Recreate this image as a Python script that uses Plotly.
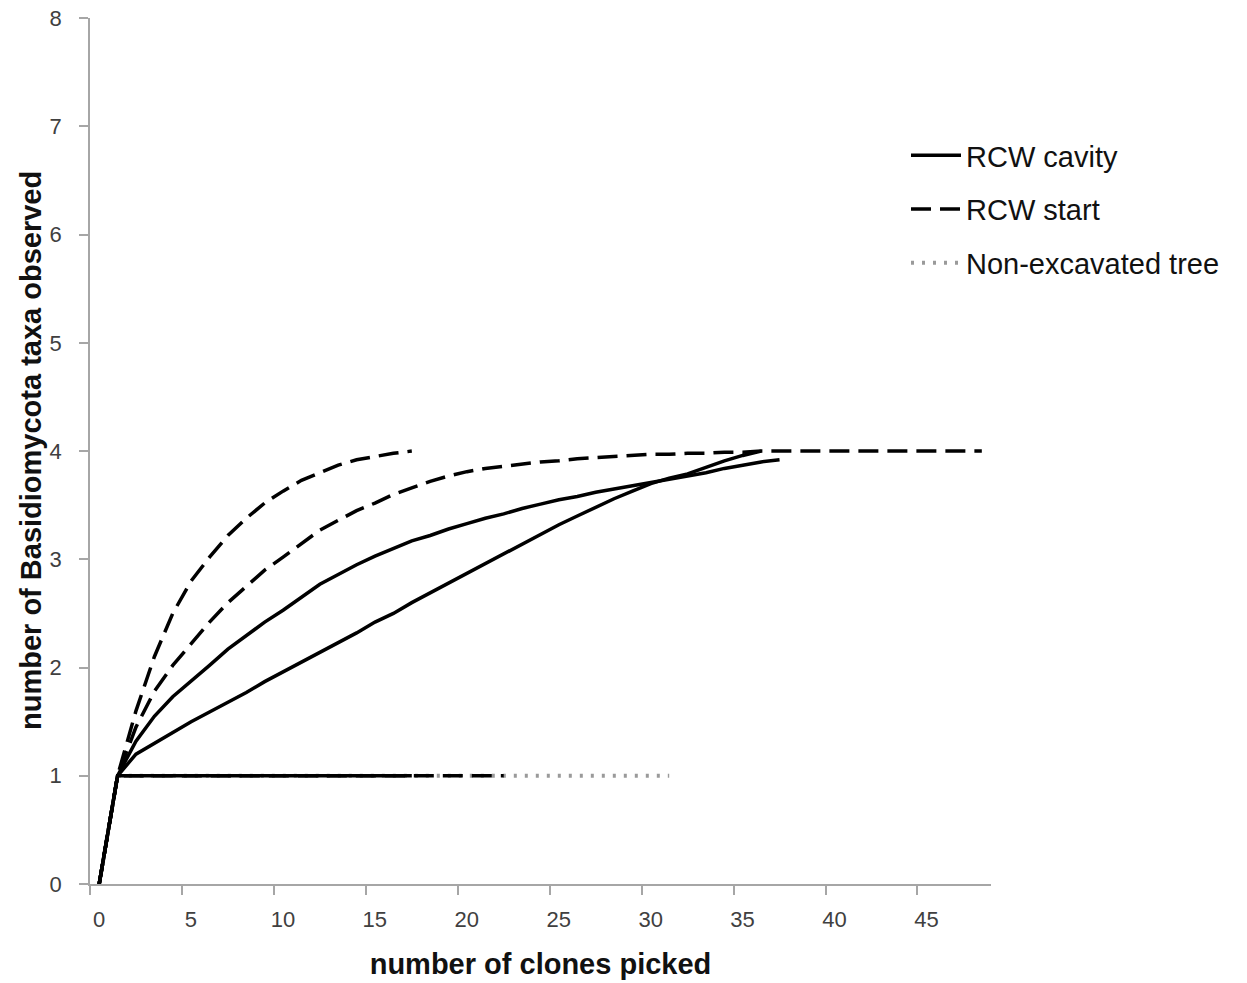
import plotly.graph_objects as go

# clones picked (x, categories 0..48) and taxa observed (y)
cavity_a = [0, 1, 1.32, 1.55, 1.73, 1.87, 2.02, 2.17, 2.30, 2.42, 2.53, 2.65, 2.77, 2.86, 2.95,
            3.03, 3.10, 3.17, 3.22, 3.28, 3.33, 3.38, 3.42, 3.47, 3.51, 3.55, 3.58, 3.62, 3.65,
            3.68, 3.71, 3.74, 3.77, 3.80, 3.84, 3.87, 3.90, 3.92]
cavity_b = [0, 1, 1.20, 1.30, 1.40, 1.50, 1.59, 1.68, 1.77, 1.87, 1.96, 2.05, 2.14, 2.23, 2.32,
            2.42, 2.50, 2.60, 2.69, 2.78, 2.87, 2.96, 3.05, 3.14, 3.23, 3.32, 3.40, 3.48, 3.56,
            3.63, 3.70, 3.75, 3.79, 3.85, 3.91, 3.96, 4.00]
cavity_c = [0] + [1] * 17
start_a = [0, 1, 1.60, 2.10, 2.50, 2.80, 3.02, 3.22, 3.38, 3.52, 3.63, 3.73, 3.80, 3.87, 3.92,
           3.95, 3.98, 4.00]
start_b = [0, 1, 1.45, 1.78, 2.02, 2.22, 2.42, 2.60, 2.75, 2.90, 3.02, 3.15, 3.27, 3.36, 3.45,
           3.52, 3.60, 3.66, 3.72, 3.77, 3.81, 3.84, 3.86, 3.88, 3.90, 3.91, 3.93, 3.94, 3.95,
           3.96, 3.97, 3.97, 3.98, 3.98, 3.99, 3.99, 4, 4, 4, 4, 4, 4, 4, 4, 4, 4, 4, 4, 4]
start_c = [0] + [1] * 22
nonexc_a = [0] + [1] * 31

x_ticks = [0, 5, 10, 15, 20, 25, 30, 35, 40, 45]
y_ticks = [0, 1, 2, 3, 4, 5, 6, 7, 8]
n_categories = 49

series = [
    ("Non-excavated tree", nonexc_a, "nonexc", True),
    ("RCW cavity", cavity_a, "cavity", True),
    ("RCW cavity", cavity_b, "cavity", False),
    ("RCW cavity", cavity_c, "cavity", False),
    ("RCW start", start_a, "start", True),
    ("RCW start", start_b, "start", False),
    ("RCW start", start_c, "start", False),
]
styles = {
    "cavity": dict(color="black", width=3.5, dash="solid"),
    "start": dict(color="black", width=3.5, dash="20px,9px"),
    "nonexc": dict(color="#9a9a9a", width=4, dash="3px,8px"),
}
rank = {"cavity": 1, "start": 2, "nonexc": 3}

W, H = 1247, 983

fig = go.Figure()
for name, ys, grp, show in series:
    fig.add_trace(go.Scatter(
        x=list(range(len(ys))), y=ys, mode="lines", name=name,
        line=styles[grp], legendgroup=grp, showlegend=show, legendrank=rank[grp],
    ))

# category axis: tick marks sit between categories, labels on the categories
x_tickpos = [t - 0.5 for t in x_ticks]

fig.update_layout(
    width=W, height=H,
    paper_bgcolor="white", plot_bgcolor="white",
    margin=dict(l=90, r=256, t=18, b=99, autoexpand=False),
    font=dict(family="Liberation Sans, Arial, sans-serif", color="#222"),
    legend=dict(xref="container", yref="container", x=906 / W, y=1 - 130 / H,
                xanchor="left", yanchor="top", font=dict(size=29, color="#111"),
                itemwidth=50, tracegroupgap=13, bgcolor="rgba(0,0,0,0)"),
    xaxis=dict(range=[-0.5, n_categories - 0.5], tickvals=x_tickpos,
               ticktext=[str(t) for t in x_ticks], ticklabelshift=9,
               ticklabelstandoff=6,
               showgrid=False, zeroline=False, automargin=False,
               showline=True, linecolor="#a6a6a6", linewidth=1.8, ticks="outside",
               tickcolor="#a6a6a6", tickwidth=1.5, ticklen=9,
               tickfont=dict(size=22, color="#404040"),
               title=dict(text="<b>number of clones picked</b>", font=dict(size=29, color="#111"),
                          standoff=22)),
    yaxis=dict(range=[0, 8.002], tickvals=y_ticks, showgrid=False, zeroline=False,
               automargin=False, ticklabelstandoff=13,
               showline=True, linecolor="#a6a6a6", linewidth=1.8, ticks="outside",
               tickcolor="#a6a6a6", tickwidth=1.5, ticklen=9,
               tickfont=dict(size=22, color="#404040")),
    annotations=[dict(text="<b>number of Basidiomycota taxa observed</b>",
                      xref="paper", yref="paper", x=0, y=0.5, xshift=-59,
                      xanchor="center", yanchor="middle", textangle=-90, showarrow=False,
                      font=dict(size=29, color="#111"))],
)

fig.write_html("out.html", config={"displayModeBar": False},
               post_script="document.body.style.margin='0';")
